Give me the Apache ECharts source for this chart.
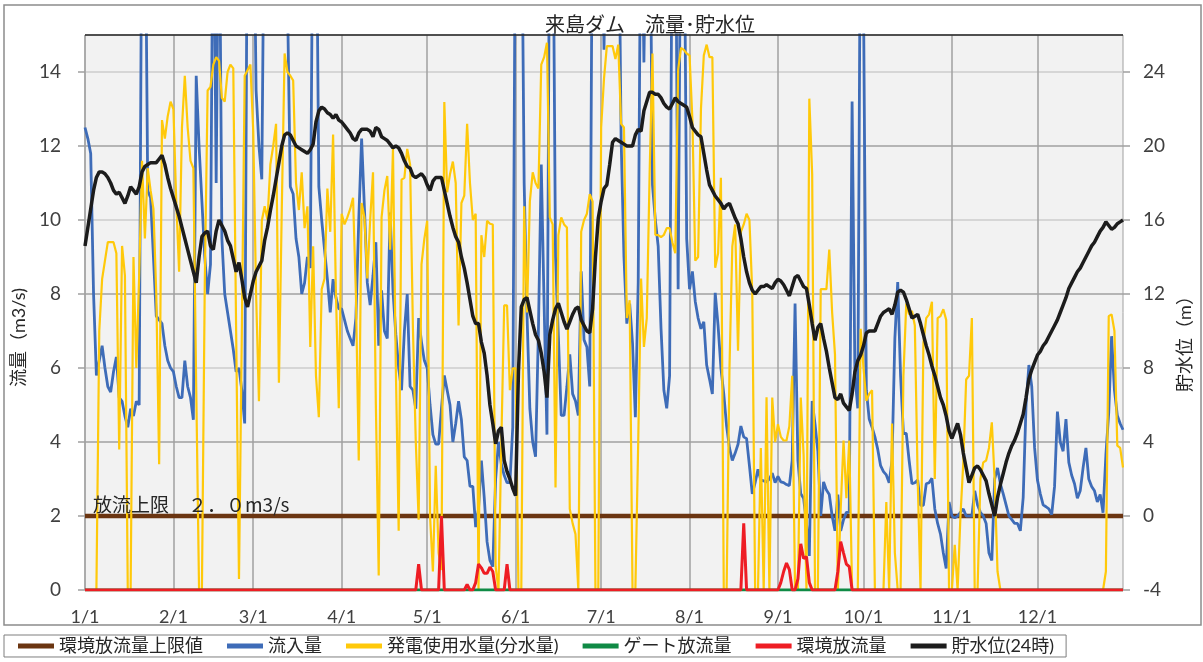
<!DOCTYPE html>
<html>
<head>
<meta charset="utf-8">
<script src="https://cdn.jsdelivr.net/npm/echarts@6/dist/echarts.min.js"></script>
<style>
  html, body { margin: 0; padding: 0; background: #fff; }
  #chart { width: 1203px; height: 662px; }
</style>
</head>
<body>
<div id="chart"></div>
<script>
// 日付カテゴリ（平年）
var MONTH_DAYS = [31, 28, 31, 30, 31, 30, 31, 31, 30, 31, 30, 31];
var NAMES = ['環境放流量上限値', '流入量', '発電使用水量(分水量)', 'ゲート放流量', '環境放流量', '貯水位(24時)'];
var LIMIT = 2.0;   // 放流上限 m3/s
var GATE = 0;      // ゲート放流量（通年0）
var FLOW_TICKS = [0, 2, 4, 6, 8, 10, 12, 14];
var LEVEL_TICKS = [-4, 0, 4, 8, 12, 16, 20, 24];

// 流入量 (m3/s) 日別、20 は上限外
var INFLOW = [
  12.5, 12.2, 11.8, 8.0, 5.8, 6.2, 6.6, 6.0, 5.5, 5.35, 5.9, 6.3, 5.2, 5.1, 4.7, 4.4, 4.9, 4.7, 5.1, 5.0, 20, 20, 10.8, 10.6, 9.0, 7.4, 7.3, 7.2, 6.6, 6.2, 6.0,
  5.9, 5.5, 5.2, 5.2, 6.2, 5.5, 5.2, 4.6, 13.9, 12.0, 10.5, 9.0, 8.0, 8.8, 20, 11, 20, 9.5, 8.0, 7.5, 7.0, 6.5, 5.9, 6.0, 5.4, 4.5, 20, 20,
  20, 13.5, 12.0, 11.1, 20, 20, 20, 20, 20, 20, 20, 20, 16, 10.9, 10.7, 9.5, 9.0, 8.0, 8.3, 9.0, 8.7, 20, 20, 10.9, 10.0, 9.2, 8.4, 7.5, 8.4, 7.9, 7.6,
  7.6, 7.3, 7.0, 6.8, 6.6, 7.35, 10.0, 12.2, 10.3, 8.3, 7.7, 8.5, 9.4, 6.6, 8.1, 7.0, 6.8, 10.2, 8.1, 6.9, 6.0, 5.4, 7.0, 8.0, 5.5, 5.4, 4.9, 7.35, 6.7, 6.2,
  6.0, 5.0, 4.2, 3.94, 3.94, 4.9, 5.8, 5.4, 5.0, 4.0, 4.5, 5.1, 4.6, 3.6, 3.5, 2.8, 2.8, 1.7, 2.2, 3.5, 2.5, 1.3, 0.8, 0.63, 3.0, 4.0, 3.4, 3.1, 2.9, 2.9, 4.4,
  20, 20, 20, 11, 7.45, 4.9, 4.0, 3.6, 7.0, 11.5, 7.7, 4.2, 20, 20, 9.0, 6.86, 4.72, 4.72, 5.5, 6.37, 5.3, 5.11, 4.72, 8.61, 6.76, 6.57, 5.5, 20, 20, 20,
  20, 14.6, 20, 20, 20, 20, 20, 12.2, 9.0, 7.2, 7.74, 6.67, 4.67, 8.32, 20, 14.26, 20, 20, 10.95, 10.0, 9.29, 7.06, 5.4, 4.91, 5.79, 20, 20, 8.13, 20, 20, 9.49,
  8.13, 8.61, 7.8, 7.35, 7.06, 7.25, 6.08, 5.7, 5.3, 8.03, 7.15, 6.0, 5.3, 4.43, 3.84, 3.5, 3.7, 3.94, 4.43, 4.14, 4.09, 3.36, 2.6, 2.9, 3.26, 2.97, 2.95, 2.92, 3.0, 3.16, 2.9,
  3.07, 2.92, 2.9, 2.85, 2.82, 3.5, 7.74, 3.5, 2.6, 2.48, 1.8, 0.92, 5.11, 4.48, 3.75, 2.0, 2.92, 2.7, 2.58, 2.0, 1.6, 2.58, 1.6, 1.9, 2.1, 2.1, 13.2, 5.79, 4.91, 20,
  16, 5.4, 4.62, 4.4, 4.14, 3.8, 3.36, 3.2, 3.11, 2.9, 3.5, 6.8, 8.32, 5.79, 4.23, 4.23, 3.5, 2.87, 2.9, 2.97, 2.29, 2.29, 2.87, 2.9, 3.02, 2.19, 1.8, 1.51, 1.0, 0.58, 2.38,
  2.0, 1.95, 2.0, 2.1, 2.19, 2.0, 2.0, 2.0, 2.68, 2.3, 2.1, 2.0, 1.8, 1.0, 0.8, 3.0, 3.3, 2.87, 2.6, 2.3, 2.0, 1.9, 1.8, 1.8, 1.6, 2.5, 5.0, 6.08, 5.5, 3.84,
  2.97, 2.6, 2.3, 2.25, 2.19, 2.04, 2.8, 4.82, 4.0, 3.75, 4.62, 3.45, 3.1, 2.87, 2.48, 2.68, 3.3, 3.84, 3.0, 2.8, 2.68, 2.38, 2.58, 2.09, 3.65, 4.8, 6.86, 5.4, 4.72, 4.5, 4.33
];

// 発電使用水量(分水量) (m3/s) 日別
var POWER = [
  0, 0, 0, 0, 0, 7.0, 8.4, 8.9, 9.4, 9.4, 9.4, 9.1, 3.8, 9.3, 8.5, 0, 0, 9.0, 6.0, 8.5, 11.6, 9.5, 11.4, 10.8, 10.3, 8.0, 3.4, 12.7, 12.2, 12.8, 13.2,
  13.0, 10.5, 8.6, 12.5, 13.9, 12.5, 11.6, 11.4, 5.5, 0, 0, 8.3, 13.5, 13.6, 14.2, 14.4, 14.3, 13.3, 13.2, 14.0, 14.2, 14.1, 7.0, 0.3, 7.0, 13.9, 14.05, 14.2,
  12.4, 8.0, 5.1, 9.98, 10.37, 10.0, 11.5, 12.0, 12.6, 5.6, 10.27, 14.5, 14.0, 13.9, 13.77, 11.0, 10.27, 11.29, 9.78, 10.37, 6.57, 9.29, 5.79, 4.67, 8.13, 8.42, 10.85, 9.68, 12.31, 8.0, 4.91,
  10.17, 9.88, 10.07, 10.3, 10.6, 8.0, 3.5, 10.46, 10.07, 8.42, 10.0, 11.29, 5.0, 0.39, 10.07, 10.8, 11.19, 9.2, 11.92, 6.0, 1.6, 11.09, 11.14, 11.92, 11.5, 7.06, 4.0, 1.9, 8.8, 9.49,
  9.98, 2.0, 0.5, 3.36, 1.0, 0.54, 13.19, 10.75, 11.24, 11.58, 11.0, 7.15, 10.46, 10.66, 12.6, 11.0, 10.0, 10.17, 0, 9.59, 9.0, 9.98, 9.9, 9.88, 0.63, 0, 4.0, 7.69, 7.69, 5.4, 5.99,
  5.99, 0, 0, 10.37, 7.5, 10.5, 11.29, 11.0, 10.85, 14.2, 14.4, 14.79, 10.07, 9.88, 2.77, 9.59, 10.07, 9.88, 9.8, 2.19, 1.8, 1.51, 0, 9.68, 10.0, 10.17, 10.7, 10.5, 0, 0,
  12.5, 13.82, 14.7, 14.7, 14.7, 14.35, 14.74, 12.6, 12.5, 7.35, 7.83, 0, 0, 4.0, 8.42, 6.57, 7.35, 11.24, 14.5, 9.6, 9.59, 9.54, 9.6, 9.78, 9.78, 9.39, 9.1, 14.06, 14.65, 14.6, 14.5,
  14.45, 12.7, 8.9, 9.0, 13.0, 14.45, 14.74, 14.4, 14.4, 8.71, 9.1, 11.14, 0, 0, 6.0, 9.29, 9.88, 6.47, 9.68, 9.88, 10.17, 10.0, 8.03, 0, 0, 3.84, 0, 5.21, 0, 5.2, 4.0,
  4.48, 4.14, 4.04, 4.04, 4.43, 5.79, 0, 0, 5.2, 3.65, 0, 13.28, 11.24, 0, 0, 8.13, 8.13, 8.13, 9.2, 7.5, 6.37, 0, 2.19, 4.04, 2.48, 4.04, 0, 0, 0, 7.06,
  6.0, 5.11, 5.3, 5.4, 0, 0, 0, 0, 2.38, 0, 4.5, 1.0, 0, 0, 5.79, 7.74, 7.45, 7.54, 7.15, 3.0, 0, 6.67, 7.35, 7.45, 7.79, 3.0, 7.35, 7.4, 7.59, 7.3, 0,
  0, 1.22, 0, 2.0, 3.45, 5.69, 5.79, 7.35, 0, 0, 3.0, 3.45, 3.5, 3.84, 4.53, 2.97, 0.5, 0, 0, 0, 0, 0, 0, 0, 0, 0, 0, 0, 0, 0,
  0, 0, 0, 0, 0, 0, 0, 0, 0, 0, 0, 0, 0, 0, 0, 0, 0, 0, 0, 0, 0, 0, 0, 0, 0.5, 7.4, 7.45, 7.0, 3.9, 3.84, 3.31
];

// 環境放流量 (m3/s) 日別
var ENV = [
  0, 0, 0, 0, 0, 0, 0, 0, 0, 0, 0, 0, 0, 0, 0, 0, 0, 0, 0, 0, 0, 0, 0, 0, 0, 0, 0, 0, 0, 0, 0,
  0, 0, 0, 0, 0, 0, 0, 0, 0, 0, 0, 0, 0, 0, 0, 0, 0, 0, 0, 0, 0, 0, 0, 0, 0, 0, 0, 0,
  0, 0, 0, 0, 0, 0, 0, 0, 0, 0, 0, 0, 0, 0, 0, 0, 0, 0, 0, 0, 0, 0, 0, 0, 0, 0, 0, 0, 0, 0, 0,
  0, 0, 0, 0, 0, 0, 0, 0, 0, 0, 0, 0, 0, 0, 0, 0, 0, 0, 0, 0, 0, 0, 0, 0, 0, 0, 0, 0.7, 0, 0,
  0, 0, 0, 0, 0, 2.0, 0, 0, 0, 0, 0, 0, 0, 0, 0.15, 0, 0, 0.2, 0.7, 0.6, 0.45, 0.45, 0.62, 0.5, 0, 0, 0, 0, 0.7, 0, 0,
  0, 0, 0, 0, 0, 0, 0, 0, 0, 0, 0, 0, 0, 0, 0, 0, 0, 0, 0, 0, 0, 0, 0, 0, 0, 0, 0, 0, 0, 0,
  0, 0, 0, 0, 0, 0, 0, 0, 0, 0, 0, 0, 0, 0, 0, 0, 0, 0, 0, 0, 0, 0, 0, 0, 0, 0, 0, 0, 0, 0, 0,
  0, 0, 0, 0, 0, 0, 0, 0, 0, 0, 0, 0, 0, 0, 0, 0, 0, 0, 0, 1.8, 0, 0, 0, 0, 0, 0, 0, 0, 0, 0, 0,
  0, 0.2, 0.5, 0.73, 0.55, 0, 0, 0.3, 1.25, 0.85, 0.9, 0.2, 0, 0, 0, 0, 0, 0, 0, 0, 0, 0.5, 1.31, 1.0, 0.7, 0.63, 0, 0, 0, 0,
  0, 0, 0, 0, 0, 0, 0, 0, 0, 0, 0, 0, 0, 0, 0, 0, 0, 0, 0, 0, 0, 0, 0, 0, 0, 0, 0, 0, 0, 0, 0,
  0, 0, 0, 0, 0, 0, 0, 0, 0, 0, 0, 0, 0, 0, 0, 0, 0, 0, 0, 0, 0, 0, 0, 0, 0, 0, 0, 0, 0, 0,
  0, 0, 0, 0, 0, 0, 0, 0, 0, 0, 0, 0, 0, 0, 0, 0, 0, 0, 0, 0, 0, 0, 0, 0, 0, 0, 0, 0, 0, 0, 0
];

// 貯水位 (m, 24時) 日別
var LEVEL = [
  14.6, 15.6, 16.6, 17.6, 18.3, 18.6, 18.6, 18.5, 18.3, 18.0, 17.6, 17.4, 17.5, 17.2, 16.9, 17.3, 17.8, 17.6, 17.4, 17.8, 18.6, 18.9, 19.0, 19.1, 19.1, 19.1, 19.3, 19.5, 19.0, 18.3, 17.7,
  17.2, 16.7, 16.2, 15.6, 15.0, 14.4, 13.8, 13.2, 12.6, 14.0, 15.1, 15.3, 15.4, 14.6, 14.4, 15.4, 16.0, 15.7, 15.4, 14.9, 14.6, 13.9, 13.2, 13.7, 12.8, 11.8, 11.3, 12.0,
  12.7, 13.2, 13.5, 13.8, 14.9, 15.6, 16.5, 17.3, 18.2, 19.1, 20.0, 20.6, 20.7, 20.6, 20.3, 20.0, 19.9, 19.8, 19.7, 19.6, 19.8, 20.1, 21.3, 21.9, 22.1, 22.0, 21.8, 21.7, 21.5, 21.7, 21.4,
  21.3, 21.1, 20.9, 20.7, 20.4, 20.3, 20.7, 20.9, 20.9, 20.9, 20.8, 20.5, 21.0, 20.9, 20.5, 20.4, 20.3, 20.1, 19.9, 20.0, 19.9, 19.6, 19.2, 18.9, 18.8, 18.4, 18.3, 18.4, 18.5, 18.3,
  17.9, 17.6, 18.1, 18.3, 18.3, 18.3, 17.6, 16.9, 16.2, 15.6, 15.1, 14.8, 14.0, 13.4, 12.6, 11.7, 10.8, 10.4, 10.4, 9.4, 8.8, 7.6, 6.0, 5.0, 3.9, 4.6, 4.8, 3.0, 2.4, 2.0, 1.5,
  1.1, 7.8, 11.3, 11.7, 11.8, 11.1, 10.4, 9.8, 9.5, 8.8, 7.8, 6.4, 9.8, 10.6, 11.2, 11.5, 11.0, 10.5, 10.1, 10.5, 10.9, 11.2, 11.3, 10.6, 10.3, 10.0, 9.9, 11.2, 14.0, 16.1,
  17.0, 17.7, 17.9, 19.0, 20.2, 20.4, 20.3, 20.2, 20.1, 20.0, 20.0, 20.0, 20.6, 20.9, 20.8, 21.9, 22.4, 22.9, 22.9, 22.8, 22.8, 22.6, 22.3, 22.1, 22.0, 22.3, 22.6, 22.4, 22.3, 22.2, 22.1,
  21.6, 21.0, 20.8, 20.6, 20.5, 19.6, 18.7, 17.9, 17.6, 17.3, 17.1, 16.9, 16.6, 16.8, 16.9, 16.5, 16.1, 15.8, 15.0, 14.0, 13.2, 12.6, 12.2, 12.0, 12.2, 12.4, 12.4, 12.5, 12.4, 12.3, 12.6,
  12.8, 12.7, 12.5, 12.2, 11.9, 12.4, 12.9, 13.0, 12.7, 12.4, 12.3, 11.4, 10.4, 9.5, 10.2, 10.4, 9.6, 8.9, 8.0, 7.2, 6.4, 6.3, 6.6, 6.1, 5.9, 5.7, 6.6, 7.8, 8.4, 8.7,
  9.2, 9.9, 10.0, 10.0, 10.0, 10.4, 10.8, 11.0, 11.1, 11.2, 10.9, 11.4, 12.1, 12.2, 12.1, 11.7, 11.2, 10.7, 10.8, 10.9, 10.4, 9.8, 9.2, 8.7, 8.1, 7.6, 7.0, 6.4, 6.0, 5.4, 4.6,
  4.2, 4.6, 5.0, 4.4, 3.4, 2.6, 1.8, 2.2, 2.6, 2.7, 2.5, 2.2, 1.9, 1.2, 0.6, 0.0, 1.0, 1.7, 2.3, 2.9, 3.4, 3.8, 4.1, 4.5, 5.0, 5.5, 6.4, 7.4, 7.9, 8.3,
  8.7, 8.9, 9.2, 9.4, 9.7, 10.0, 10.3, 10.6, 11.0, 11.4, 11.8, 12.3, 12.6, 12.9, 13.2, 13.4, 13.7, 14.0, 14.3, 14.6, 14.8, 15.1, 15.4, 15.6, 15.9, 15.7, 15.5, 15.6, 15.8, 15.9, 16.0
];

var FONT = "Lato, 'Noto Sans CJK JP', sans-serif";
var days = [];
var monthStart = {};
MONTH_DAYS.forEach(function (n, m) {
  for (var d = 1; d <= n; d++) {
    if (d === 1) monthStart[days.length] = true;
    days.push((m + 1) + '/' + d);
  }
});
var firstDay = days[0], lastDay = days[days.length - 1];
function isMonthStart(i) { return !!monthStart[i]; }

var chart = echarts.init(document.getElementById('chart'));
chart.setOption({
  animation: false,
  backgroundColor: '#ffffff',
  title: {
    text: '来島ダム　流量･貯水位',
    left: 540, top: 11,
    textStyle: { fontSize: 20, fontWeight: 'normal', color: '#262626', fontFamily: FONT }
  },
  graphic: [
    {
      type: 'rect', z: 0, silent: true,
      shape: { x: 4, y: 5, width: 1197, height: 620 },
      style: { fill: 'none', stroke: '#8c8c8c', lineWidth: 1.5 }
    },
    {
      type: 'text', left: 93, top: 495, z: 5, silent: true,
      style: { text: '放流上限　２．０m3/s', font: "19px 'Noto Sans CJK JP'", fill: '#262626' }
    }
  ],
  legend: {
    left: 4, top: 635,
    padding: [2, 12, 2, 14],
    itemWidth: 36, itemHeight: 5, itemGap: 24,
    borderColor: '#7f7f7f', borderWidth: 1,
    icon: 'rect',
    textStyle: { fontSize: 18, color: '#262626', fontFamily: FONT },
    data: NAMES
  },
  grid: {
    left: 85, right: 80, top: 35, bottom: 72,
    show: true, backgroundColor: '#f2f2f2', borderColor: '#a0a0a0', borderWidth: 1
  },
  xAxis: {
    type: 'category', data: days, boundaryGap: false,
    axisLine: { show: false }, axisTick: { show: false },
    axisLabel: { interval: isMonthStart, margin: 18, fontSize: 18, color: '#404040', fontFamily: FONT },
    splitLine: { show: true, interval: isMonthStart, lineStyle: { color: '#a0a0a0', width: 1.5 } }
  },
  yAxis: [
    {
      type: 'value', min: 0, max: 15, interval: 1,
      name: '流量（m3/s)', nameLocation: 'middle', nameRotate: 90, nameGap: 51,
      nameTextStyle: { fontSize: 18, color: '#262626', fontFamily: FONT, padding: [0, 50, 0, 0] },
      axisLine: { show: false },
      axisTick: { show: true, inside: false, length: 7, customValues: FLOW_TICKS, lineStyle: { color: '#a0a0a0', width: 1.5 } },
      axisLabel: {
        margin: 24, fontSize: 19, color: '#404040', fontFamily: FONT, customValues: FLOW_TICKS,
        formatter: function (v) { return v % 2 === 0 && v < 15 ? v : ''; }
      },
      splitLine: { show: true, lineStyle: { color: ['#a0a0a0', '#cccccc'], width: 1.5 } }
    },
    {
      type: 'value', min: -4, max: 26, interval: 4, position: 'right',
      name: '貯水位（m）', nameLocation: 'middle', nameRotate: 90, nameGap: 52,
      nameTextStyle: { fontSize: 18, color: '#262626', fontFamily: FONT, padding: [0, 54, 0, 0] },
      axisLine: { show: false },
      axisTick: { show: true, length: 7, customValues: LEVEL_TICKS, lineStyle: { color: '#a0a0a0', width: 1.5 } },
      axisLabel: {
        margin: 20, fontSize: 19, color: '#404040', fontFamily: FONT, customValues: LEVEL_TICKS,
        formatter: function (v) { return v < 26 ? v : ''; }
      },
      splitLine: { show: false }
    }
  ],
  series: [
    {
      name: NAMES[0], type: 'line', yAxisIndex: 0, symbol: 'none',
      data: [[firstDay, LIMIT], [lastDay, LIMIT]],
      lineStyle: { color: '#6b3511', width: 4.5 }, itemStyle: { color: '#6b3511' },
      markLine: {
        silent: true, symbol: 'none', label: { show: false },
        lineStyle: { color: '#262626', width: 1.5, type: 'solid' },
        data: [{ yAxis: 15 }]
      }
    },
    {
      name: NAMES[1], type: 'line', yAxisIndex: 0, symbol: 'none', data: INFLOW,
      lineStyle: { color: '#3e6cb8', width: 2.8 }, itemStyle: { color: '#3e6cb8' }
    },
    {
      name: NAMES[2], type: 'line', yAxisIndex: 0, symbol: 'none', data: POWER,
      lineStyle: { color: '#ffc90a', width: 2.2 }, itemStyle: { color: '#ffc90a' }
    },
    {
      name: NAMES[3], type: 'line', yAxisIndex: 0, symbol: 'none',
      data: [[firstDay, GATE], [lastDay, GATE]],
      lineStyle: { color: '#0f8a45', width: 3 }, itemStyle: { color: '#0f8a45' }
    },
    {
      name: NAMES[4], type: 'line', yAxisIndex: 0, symbol: 'none', data: ENV,
      lineStyle: { color: '#ee1d24', width: 3 }, itemStyle: { color: '#ee1d24' }
    },
    {
      name: NAMES[5], type: 'line', yAxisIndex: 1, symbol: 'none', data: LEVEL,
      lineStyle: { color: '#1c1c1c', width: 3.5 }, itemStyle: { color: '#1c1c1c' }
    }
  ]
});
</script>
</body>
</html>
